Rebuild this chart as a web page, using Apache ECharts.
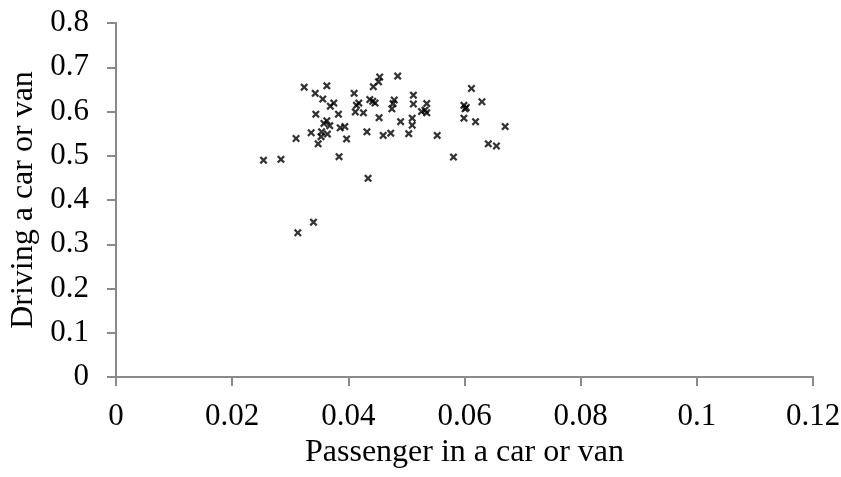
<!DOCTYPE html>
<html>
<head>
<meta charset="utf-8">
<script src="https://cdn.jsdelivr.net/npm/echarts@6/dist/echarts.min.js"></script>
<style>
  html, body { margin: 0; padding: 0; background: #fff; }
  #chart { width: 841px; height: 477px; }
</style>
</head>
<body>
<div id="chart"></div>
<script>
// Passenger share (x) vs driving share (y)
var passenger = [
  0.0254, 0.0284, 0.0313, 0.0310, 0.0324, 0.0340, 0.0336, 0.0343, 0.0344, 0.0348,
  0.0353, 0.0354, 0.0356, 0.0358, 0.0363, 0.0363, 0.0364, 0.0368, 0.0369, 0.0375,
  0.0383, 0.0384, 0.0386, 0.0394, 0.0397, 0.0410, 0.0412, 0.0414, 0.0418, 0.0426,
  0.0432, 0.0434, 0.0437, 0.0442, 0.0446, 0.0443, 0.0452, 0.0454, 0.0453, 0.0460,
  0.0473, 0.0475, 0.0477, 0.0479, 0.0485, 0.0490, 0.0504, 0.0510, 0.0510, 0.0512,
  0.0512, 0.0526, 0.0532, 0.0535, 0.0535, 0.0553, 0.0581, 0.0599, 0.0599, 0.0603,
  0.0601, 0.0612, 0.0619, 0.0630, 0.0641, 0.0655, 0.0670
];
var driving = [
  0.490, 0.492, 0.326, 0.539, 0.655, 0.350, 0.552, 0.641, 0.594, 0.527,
  0.543, 0.554, 0.628, 0.573, 0.658, 0.579, 0.549, 0.568, 0.612, 0.619,
  0.594, 0.498, 0.563, 0.566, 0.538, 0.641, 0.599, 0.614, 0.619, 0.597,
  0.554, 0.449, 0.627, 0.623, 0.619, 0.656, 0.667, 0.678, 0.586, 0.546,
  0.551, 0.606, 0.618, 0.626, 0.680, 0.577, 0.550, 0.569, 0.585, 0.637,
  0.617, 0.600, 0.603, 0.597, 0.618, 0.546, 0.497, 0.585, 0.614, 0.609,
  0.606, 0.652, 0.577, 0.622, 0.527, 0.522, 0.566
];

var points = passenger.map(function (x, i) { return [x, driving[i]]; });

var axisGray = '#8a8a8a';
var fontFam = '"Liberation Serif", "DejaVu Serif", serif';

var myChart = echarts.init(document.getElementById('chart'));
var option = {
  animation: false,
  backgroundColor: '#fff',
  grid: { left: 116, right: 28, top: 23, bottom: 100, outerBoundsMode: 'none', containLabel: false },
  xAxis: {
    type: 'value',
    min: 0, max: 0.12, interval: 0.02,
    name: 'Passenger in a car or van',
    nameLocation: 'middle',
    nameGap: 53,
    nameTextStyle: { fontFamily: fontFam, fontSize: 32, color: '#000' },
    axisLine: { lineStyle: { color: axisGray, width: 2 } },
    axisTick: { show: true, length: 9, lineStyle: { color: axisGray, width: 2 } },
    axisLabel: { margin: 24, fontFamily: fontFam, fontSize: 31, color: '#000' },
    splitLine: { show: false }
  },
  yAxis: {
    type: 'value',
    min: 0, max: 0.8, interval: 0.1,
    name: 'Driving a car or van',
    nameLocation: 'middle',
    nameGap: 75,
    nameTextStyle: { fontFamily: fontFam, fontSize: 32, color: '#000' },
    axisLine: { show: true, lineStyle: { color: axisGray, width: 2 } },
    axisTick: { show: true, length: 9, lineStyle: { color: axisGray, width: 2 } },
    axisLabel: { margin: 27, fontFamily: fontFam, fontSize: 31, color: '#000' },
    splitLine: { show: false }
  },
  series: [{
    type: 'scatter',
    data: points,
    symbol: 'path://M0,2 L2,0 L5,3 L8,0 L10,2 L7,5 L10,8 L8,10 L5,7 L2,10 L0,8 L3,5 Z',
    symbolSize: 8,
    itemStyle: { color: '#000' }
  }]
};
myChart.setOption(option);
</script>
</body>
</html>
